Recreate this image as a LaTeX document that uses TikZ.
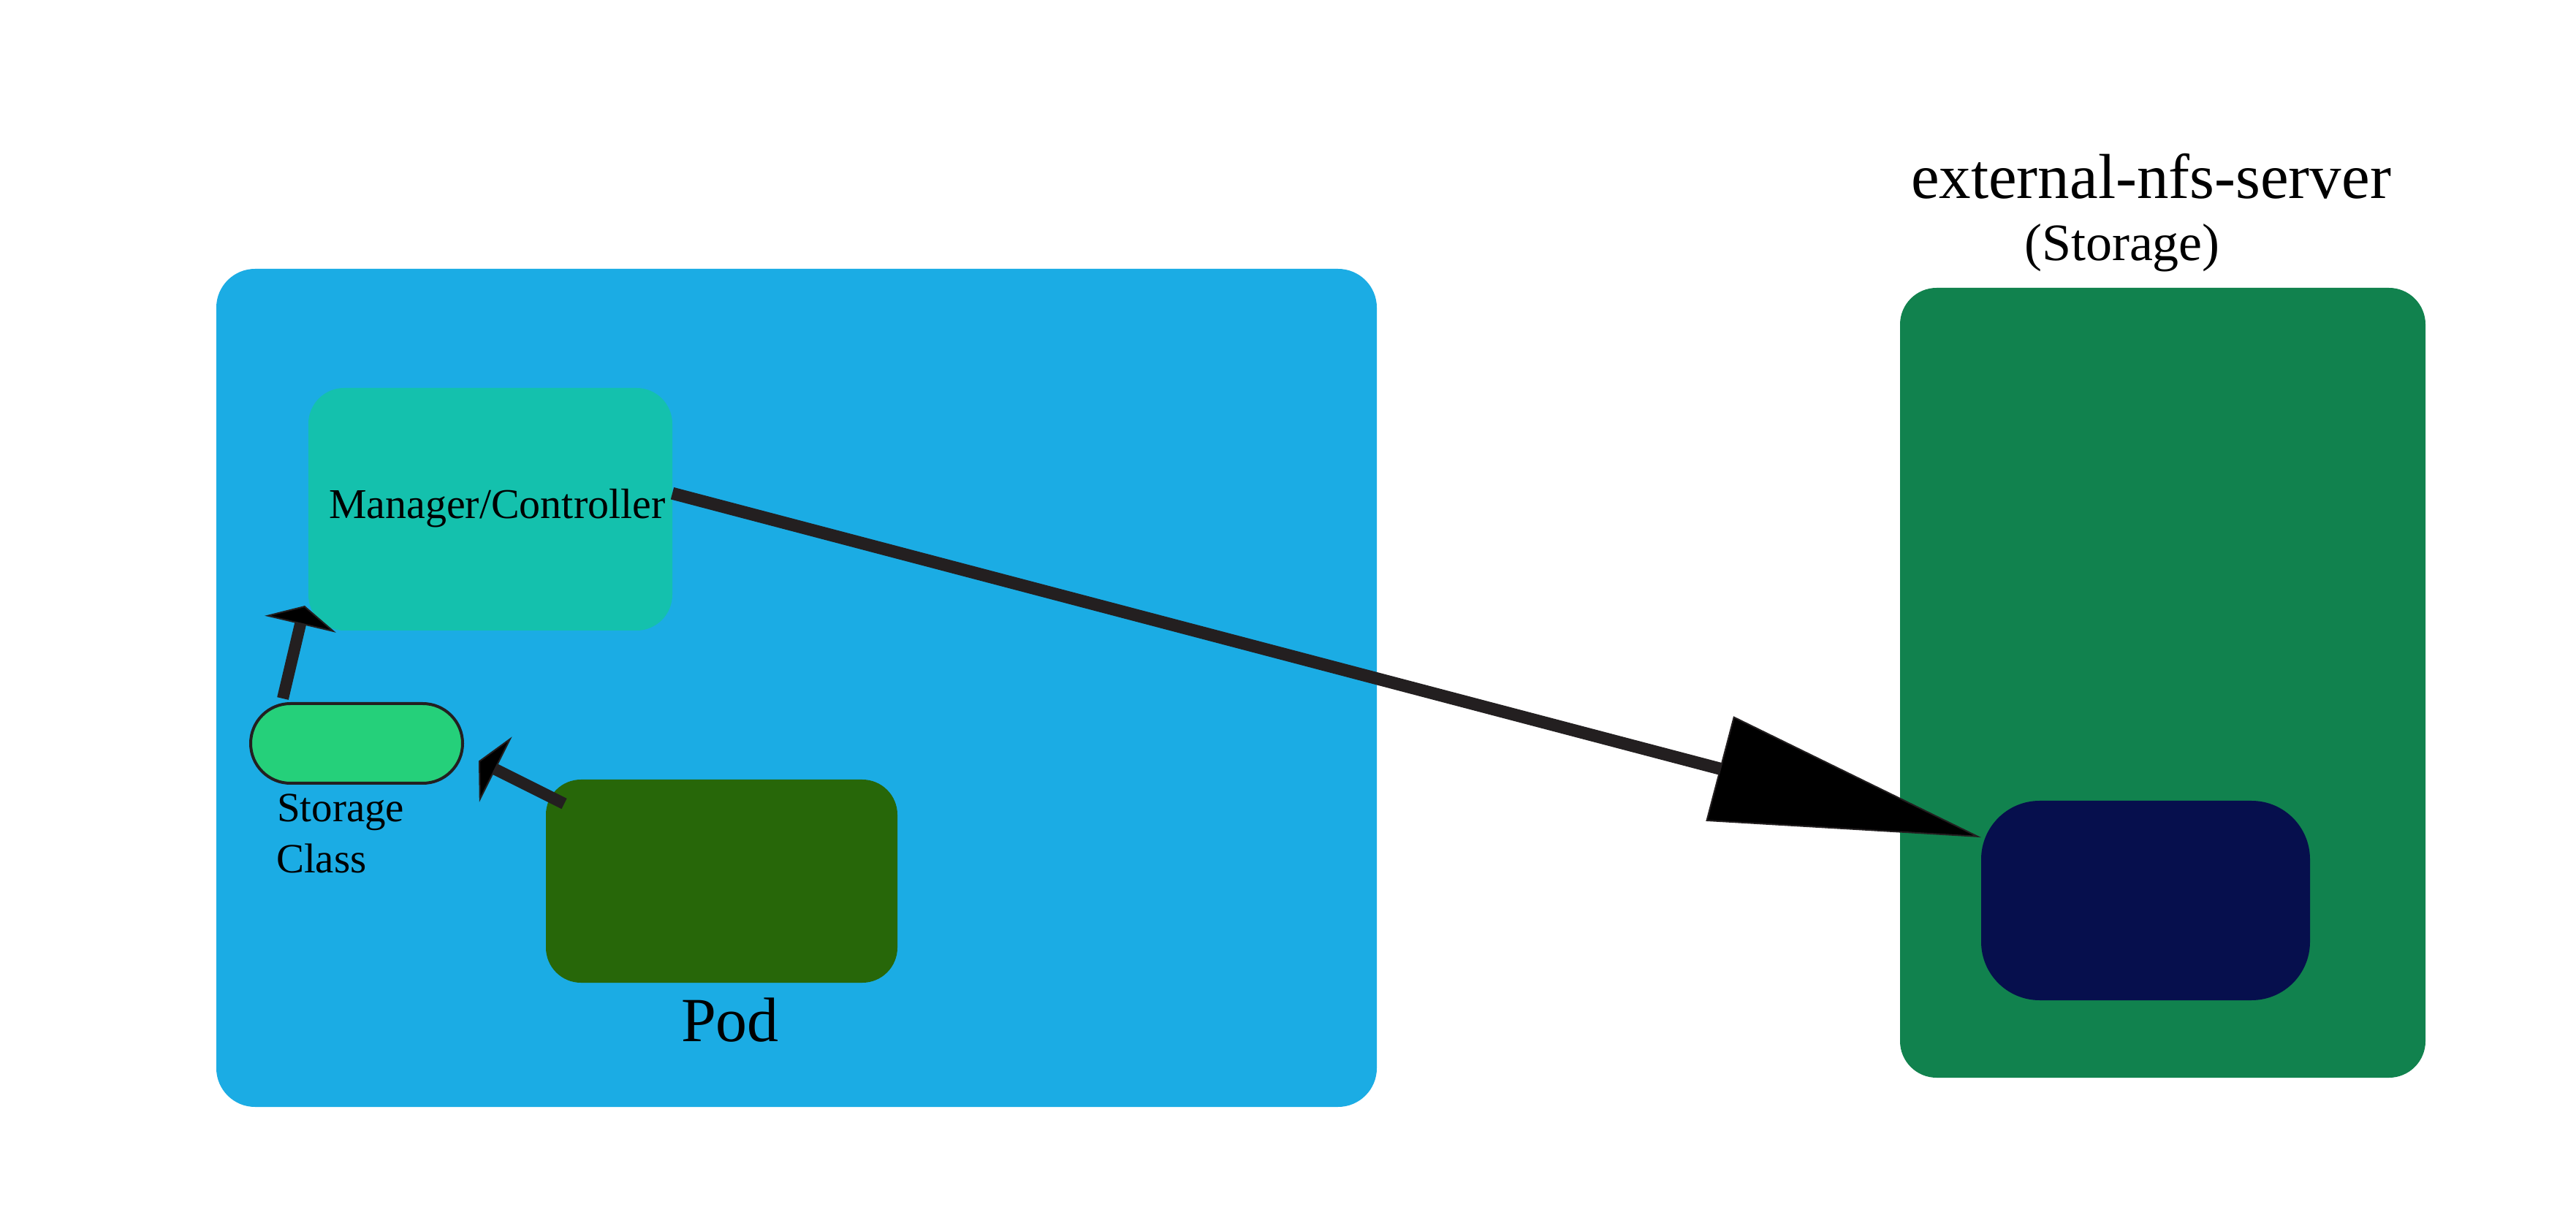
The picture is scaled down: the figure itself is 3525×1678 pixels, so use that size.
\documentclass[tikz,border=0pt]{standalone}
\usepackage{fontspec}
\setmainfont{Liberation Serif}
\usetikzlibrary{arrows.meta,calc}
\definecolor{cblue}{HTML}{1BACE4}
\definecolor{cteal}{HTML}{14C1AD}
\definecolor{cpill}{HTML}{25D07A}
\definecolor{cpod}{HTML}{276709}
\definecolor{cgreen}{HTML}{11824E}
\definecolor{cnavy}{HTML}{060F4D}
\definecolor{cline}{HTML}{231F20}
\begin{document}
\begin{tikzpicture}[x=0.25pt,y=-0.25pt,
  box/.style={rectangle,inner sep=0pt,outer sep=0pt,draw=none},
  lbl/.style={inner sep=0pt,outer sep=0pt,anchor=base west,text=black},
  bigarrow/.style={draw=cline,line width=4.25pt,-{Triangle[length=92.5pt,width=37pt,fill=black,line width=0.5pt]}},
  smallarrow/.style={draw=cline,line width=4pt,-{Triangle[length=6.5pt,width=25pt,fill=black,line width=0.5pt]}}]
\fill[white] (0,0) rectangle (3525,1678);
\useasboundingbox (0,0) rectangle (3525,1678);
% containers
\node[box,fill=cblue,minimum width=397pt,minimum height=286.75pt,rounded corners=13.25pt] (cluster) at (1090,941.5) {};
\node[box,fill=cgreen,minimum width=179.75pt,minimum height=270.25pt,rounded corners=12.5pt] (server) at (2959.5,934.5) {};
% inner boxes
\node[box,fill=cteal,minimum width=124.5pt,minimum height=83pt,rounded corners=12.25pt] (mgr) at (671,697) {};
\node[box,fill=cpill,draw=cline,line width=1pt,minimum width=72.5pt,minimum height=27.25pt,rounded corners=13.6pt] (pill) at (488,1017.5) {};
\node[box,fill=cpod,minimum width=120.25pt,minimum height=69.5pt,rounded corners=12pt] (pod) at (987.5,1206) {};
\node[box,fill=cnavy,minimum width=112.5pt,minimum height=68.25pt,rounded corners=20pt] (navy) at (2936,1232.5) {};
% labels
\node[lbl,font=\fontsize{14.5pt}{17.4pt}\selectfont] (mgrtxt) at (450,710) {Manager/Controller};
\node[lbl,font=\fontsize{14.25pt}{17.1pt}\selectfont] (sctxt1) at (379,1124) {Storage};
\node[lbl,font=\fontsize{14.25pt}{17.1pt}\selectfont] (sctxt2) at (378,1194) {Class};
\node[lbl,font=\fontsize{21.5pt}{25.8pt}\selectfont] (podtxt) at (932,1425) {Pod};
\node[lbl,font=\fontsize{21.75pt}{26pt}\selectfont] (srvtxt) at (2615,272) {external-nfs-server};
\node[lbl,font=\fontsize{18pt}{21.6pt}\selectfont] (srvsub) at (2770,357) {(Storage)};
% connectors
\draw[bigarrow] (mgr.5.5) -- (navy.159.5);
\draw[smallarrow] ($(pill.north west)+(44,-7)$) -- ($(mgr.south west)+(-5,-34)$);
\draw[smallarrow] ($(pod.north west)+(25,33)$) -- ($(pill.east)+(22,24)$);
\end{tikzpicture}
\end{document}
